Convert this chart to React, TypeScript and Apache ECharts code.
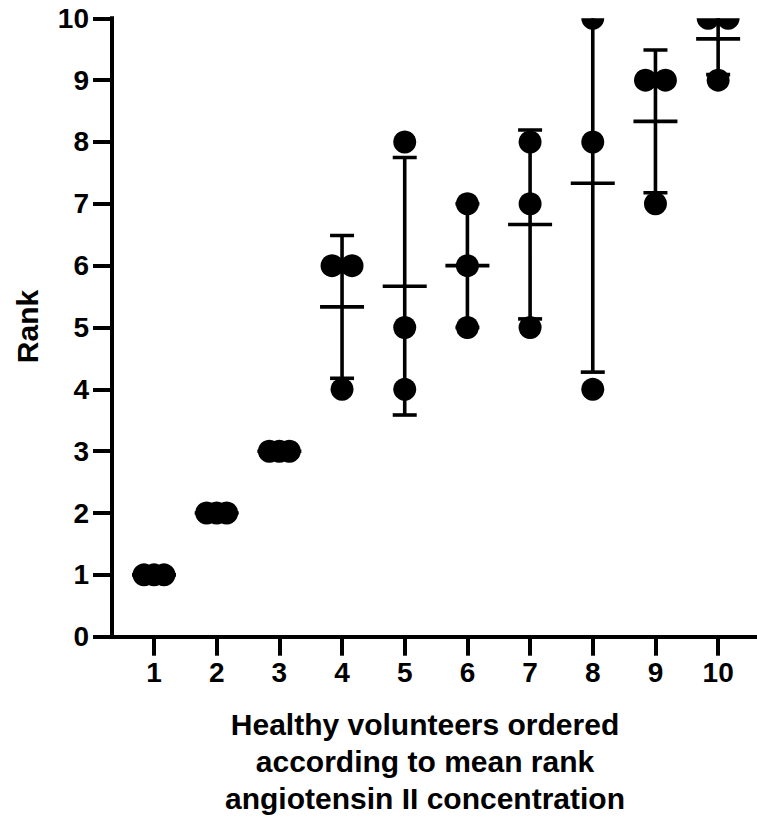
import React, { useEffect, useRef } from "react";
import * as echarts from "echarts";

// Three repeated rank measurements per volunteer
const volunteers = [1, 2, 3, 4, 5, 6, 7, 8, 9, 10];
const rankA = [1, 2, 3, 6, 8, 7, 8, 10, 9, 10];
const rankB = [1, 2, 3, 6, 5, 6, 7, 8, 9, 10];
const rankC = [1, 2, 3, 4, 4, 5, 5, 4, 7, 9];
const rankTicks = [0, 1, 2, 3, 4, 5, 6, 7, 8, 9, 10];

const FONT = '"Liberation Sans", Arial, Helvetica, sans-serif';
const INK = "#000";

const DOT_R = 11.5;
const DUP_SPREAD = 10; // px offset for identical ranks
const CAP_HALF = 12;
const MEAN_HALF = 22;
const BAR_W = 3.6;

function renderVolunteer(params: any, api: any) {
  const x = api.value(0);
  const ranks = [api.value(1), api.value(2), api.value(3)];
  const n = ranks.length;
  const mean = ranks.reduce((s, r) => s + r, 0) / n;
  const sd = Math.sqrt(ranks.reduce((s, r) => s + (r - mean) * (r - mean), 0) / (n - 1));

  const children: any[] = [];

  // dots: identical ranks are spread sideways
  const counts: Record<string, number> = {};
  ranks.forEach((r) => (counts[r] = (counts[r] || 0) + 1));
  const seen: Record<string, number> = {};
  ranks.forEach((r) => {
    const k = counts[r];
    const i = seen[r] || 0;
    seen[r] = i + 1;
    const offsets = k === 1 ? [0] : k === 2 ? [-DUP_SPREAD, DUP_SPREAD] : [-DUP_SPREAD, 0, DUP_SPREAD];
    const p = api.coord([x, r]);
    children.push({
      type: "circle",
      shape: { cx: p[0] + offsets[i], cy: p[1], r: DOT_R },
      style: { fill: INK },
    });
  });

  // mean with SD error bar
  const top = api.coord([x, mean + sd]);
  const bot = api.coord([x, mean - sd]);
  const mid = api.coord([x, mean]);
  const stroke = { stroke: INK, lineWidth: BAR_W };
  children.push({ type: "line", shape: { x1: top[0], y1: top[1], x2: bot[0], y2: bot[1] }, style: stroke });
  children.push({ type: "line", shape: { x1: top[0] - CAP_HALF, y1: top[1], x2: top[0] + CAP_HALF, y2: top[1] }, style: stroke });
  children.push({ type: "line", shape: { x1: bot[0] - CAP_HALF, y1: bot[1], x2: bot[0] + CAP_HALF, y2: bot[1] }, style: stroke });
  children.push({ type: "line", shape: { x1: mid[0] - MEAN_HALF, y1: mid[1], x2: mid[0] + MEAN_HALF, y2: mid[1] }, style: stroke });

  return { type: "group", children };
}

export default function App() {
  const ref = useRef<HTMLDivElement>(null);

  useEffect(() => {
    if (!ref.current) return;
    const chart = echarts.init(ref.current, undefined, { renderer: "svg" });

    const axisLine = { show: true, lineStyle: { color: INK, width: 4, cap: "square" as const } };
    const axisTick = { show: true, length: 19, lineStyle: { color: INK, width: 4 } };
    const labelStyle = { color: INK, fontSize: 28, fontWeight: "bold" as const, fontFamily: FONT };

    chart.setOption({
      animation: false,
      backgroundColor: "#fff",
      grid: { left: 112, right: 0, top: 18.3, bottom: 181.3, containLabel: false },
      xAxis: {
        type: "value",
        min: 0.33,
        max: 10.62,
        axisLine,
        axisTick: { ...axisTick, customValues: volunteers },
        axisLabel: { ...labelStyle, margin: 22, customValues: volunteers },
        splitLine: { show: false },
      },
      yAxis: {
        type: "value",
        min: rankTicks[0],
        max: rankTicks[rankTicks.length - 1],
        interval: 1,
        axisLine,
        axisTick,
        axisLabel: { ...labelStyle, margin: 23 },
        splitLine: { show: false },
      },
      series: [
        {
          type: "custom",
          clip: true,
          renderItem: renderVolunteer,
          encode: { x: 0, y: [1, 2, 3] },
          data: volunteers.map((v, i) => [v, rankA[i], rankB[i], rankC[i]]),
        },
      ],
      graphic: [
        {
          type: "text",
          x: 27.5,
          y: 326.5,
          rotation: Math.PI / 2,
          style: {
            text: "Rank",
            fill: INK,
            fontSize: 30,
            fontWeight: "bold",
            fontFamily: FONT,
            align: "center",
            verticalAlign: "middle",
          },
        },
        {
          type: "text",
          x: 425,
          y: 706,
          style: {
            text: "Healthy volunteers ordered\naccording to mean rank\nangiotensin II concentration",
            fill: INK,
            fontSize: 30,
            fontWeight: "bold",
            fontFamily: FONT,
            lineHeight: 37,
            align: "center",
            verticalAlign: "top",
          },
        },
      ],
    });

    return () => chart.dispose();
  }, []);

  return (
    <div
      ref={ref}
      style={{ position: "absolute", left: 0, top: 0, width: 757, height: 818, background: "#fff" }}
    />
  );
}
